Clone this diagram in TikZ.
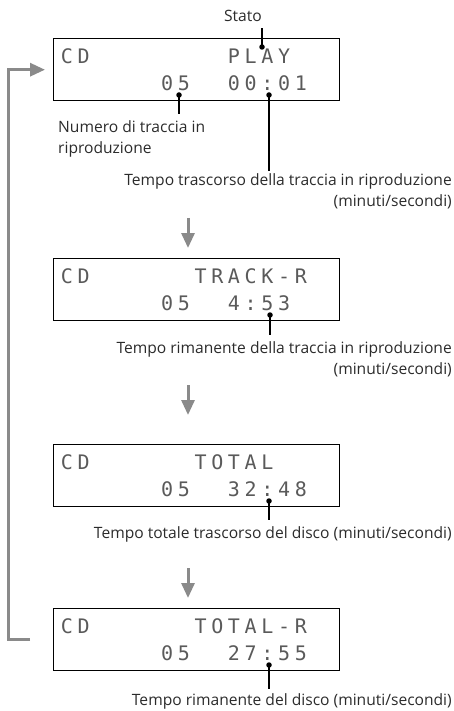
\documentclass[tikz,border=0pt]{standalone}
\usepackage{fontspec}
\setmainfont{Open Sans}
\newfontfamily\lcdfont{DejaVu Sans Mono}
\definecolor{flowGray}{HTML}{8A8A8A}
\definecolor{lcdInk}{HTML}{5A5A5A}
\definecolor{txtInk}{HTML}{2B2B2B}
\usetikzlibrary{arrows.meta, calc, positioning}

% one row of the 16-column display: box, row offset, first column, characters
\newcommand{\lcdrow}[4]{%
  \foreach \ch [count=\k from #3] in {#4}
    \node[lcdchar] (#1-#2-\k) at ($(#1.north west)+(14+16.7*\k,#2)$) {\ch};}

\begin{document}
\begin{tikzpicture}[x=1pt, y=-1pt,
  lcdbox/.style={draw, line width=1.4pt, minimum width=286pt, minimum height=62pt,
    anchor=north west, inner sep=0pt},
  lcdchar/.style={inner sep=0pt, text height=14.6pt, text depth=0pt, text=lcdInk,
    font=\lcdfont\fontsize{20}{20}\selectfont},
  lbl/.style={inner sep=0pt, text=txtInk, font=\fontsize{15.6}{21}\selectfont},
  pindot/.style={circle, fill=black, inner sep=0pt, minimum size=5.5pt},
  leader/.style={line width=1.8pt, shorten >=6pt},
  flow/.style={draw=flowGray, line width=3pt, -{Triangle[length=15pt, width=13pt]}}]

  \useasboundingbox (0,0) rectangle (454,711);

  % displays
  \node[lcdbox] (box1) at (53,38) {};
  \node[lcdbox] (box2) at (53,258) {};
  \node[lcdbox] (box3) at (53,444) {};
  \node[lcdbox] (box4) at (53,608) {};

  \lcdrow{box1}{18}{0}{C,D}
  \lcdrow{box1}{18}{10}{P,L,A,Y}
  \lcdrow{box1}{45}{6}{0,5}
  \lcdrow{box1}{45}{10}{0,0,:,0,1}

  \lcdrow{box2}{18}{0}{C,D}
  \lcdrow{box2}{18}{8}{T,R,A,C,K,-,R}
  \lcdrow{box2}{45}{6}{0,5}
  \lcdrow{box2}{45}{10}{4,:,5,3}

  \lcdrow{box3}{18}{0}{C,D}
  \lcdrow{box3}{18}{8}{T,O,T,A,L}
  \lcdrow{box3}{45}{6}{0,5}
  \lcdrow{box3}{45}{10}{3,2,:,4,8}

  \lcdrow{box4}{18}{0}{C,D}
  \lcdrow{box4}{18}{8}{T,O,T,A,L,-,R}
  \lcdrow{box4}{45}{6}{0,5}
  \lcdrow{box4}{45}{10}{2,7,:,5,5}

  % callouts
  \node[lbl, anchor=base] (stato) at (243,22) {Stato};
  \node[lbl, anchor=north west, align=left] (numlbl) at (58,120) {Numero di traccia in\\riproduzione};
  \node[lbl, anchor=north east, align=right] (elap1) at (452,173)
    {Tempo trascorso della traccia in riproduzione\\(minuti/secondi)};
  \node[lbl, anchor=north east, align=right] (rem2) at (452,341)
    {Tempo rimanente della traccia in riproduzione\\(minuti/secondi)};
  \node[lbl, anchor=north east] (tot3) at (452,526) {Tempo totale trascorso del disco (minuti/secondi)};
  \node[lbl, anchor=north east] (rem4) at (452,693) {Tempo rimanente del disco (minuti/secondi)};

  \node[pindot] (dotst) at (262,47) {};
  \node[pindot] (dotnum) at (179,95) {};
  \node[pindot] (dot1) at (269,95) {};
  \node[pindot] (dot2) at (270,315) {};
  \node[pindot] (dot3) at (269,501) {};
  \node[pindot] (dot4) at (269,665) {};

  \draw[leader] (dotst.center) -- (dotst |- stato.south);
  \draw[leader] (dotnum.center) -- (dotnum |- numlbl.north);
  \draw[leader, shorten >=2pt] (dot1.center) -- (dot1 |- elap1.north);
  \draw[leader] (dot2.center) -- (dot2 |- rem2.north);
  \draw[leader] (dot3.center) -- (dot3 |- tot3.north);
  \draw[leader, shorten >=4pt] (dot4.center) -- (dot4 |- rem4.north);

  % sequence
  \coordinate (a1) at (188,218);
  \coordinate (a2) at (188,385);
  \coordinate (a3) at (188,568);
  \draw[flow] (a1) -- ++(0,30);
  \draw[flow] (a2) -- ++(0,30);
  \draw[flow] (a3) -- ++(0,30);

  % back to the first display
  \draw[flow] ([xshift=-23pt]box4.west) -| ([xshift=-45pt]box1.west) -- ([xshift=-8pt]box1.west);
\end{tikzpicture}
\end{document}
